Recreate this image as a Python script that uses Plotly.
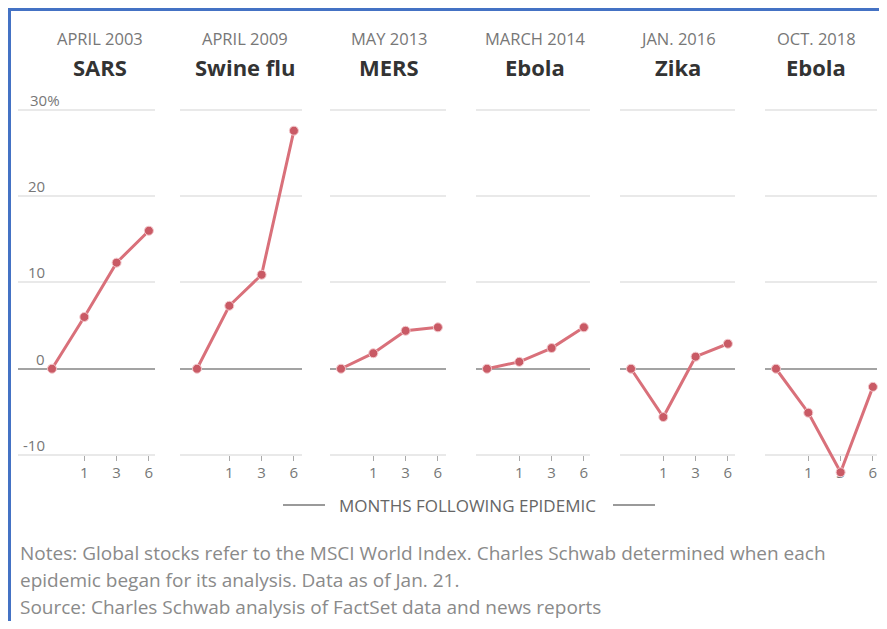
import plotly.graph_objects as go

# ---------------- data ----------------
months = ["0", "1", "3", "6"]            # months after start of epidemic
month_tick_labels = ["1", "3", "6"]
dates = ["APRIL 2003", "APRIL 2009", "MAY 2013", "MARCH 2014", "JAN. 2016", "OCT. 2018"]
names = ["SARS", "Swine flu", "MERS", "Ebola", "Zika", "Ebola"]
sars = [0, 6.0, 12.3, 16.0]
swine_flu = [0, 7.3, 10.9, 27.6]
mers = [0, 1.8, 4.4, 4.8]
ebola_2014 = [0, 0.8, 2.4, 4.8]
zika = [0, -5.6, 1.4, 2.9]
ebola_2018 = [0, -5.1, -12.0, -2.1]
series = [sars, swine_flu, mers, ebola_2014, zika, ebola_2018]
y_ticks = [-10, 0, 10, 20, 30]
y_tick_labels = ["-10", "0", "10", "20", "30%"]
axis_title = "MONTHS FOLLOWING EPIDEMIC"
notes = [
    "Notes: Global stocks refer to the MSCI World Index. Charles Schwab determined when each",
    "epidemic began for its analysis. Data as of Jan. 21.",
    "Source: Charles Schwab analysis of FactSet data and news reports",
]

# ---------------- layout helpers ----------------
OFF = 8                      # page body margin
W, H = 887 - 2 * OFF, 629 - 2 * OFF
def fx(p):
    return (p - OFF) / W
def fy(p):
    return 1 - (p - OFF) / H

# panel pixel geometry (page coords): (grid left, grid right, x of first point)
panels = [(18, 155, 52), (180, 302, 197), (330, 446, 341),
          (476, 590, 487), (620, 735, 631), (765, 877, 776)]
xscale = 32.3
header_x = [1.5, 1.5, 1.5, 1.5, 1.45, 1.25]

y_range = [-13, 31]
ppu = 345 / 40.0
y_dom = [fy(455 + 3 * ppu), fy(110 - 1 * ppu)]
x_axis_pos = fy(455)

LINE = "#d9707a"
MARK = "#c95a65"
FONT = "Open Sans"

fig = go.Figure()
layout = dict(
    width=W, height=H, autosize=False,
    margin=dict(l=0, r=0, t=0, b=0),
    paper_bgcolor="white", plot_bgcolor="white",
    showlegend=False,
    font=dict(family=FONT, color="#777"),
)

annotations = []
shapes = []

for i, (vals, (gl, gr, p0)) in enumerate(zip(series, panels)):
    n = "" if i == 0 else str(i + 1)
    xpos = list(range(len(months)))
    fig.add_trace(go.Scatter(
        x=xpos, y=vals, mode="lines+markers",
        xaxis="x" + n, yaxis="y" + n,
        line=dict(color=LINE, width=3),
        marker=dict(color=MARK, size=9, line=dict(color="#f3c9cd", width=1)),
        cliponaxis=False, hoverinfo="skip",
    ))
    layout["xaxis" + n] = dict(
        domain=[fx(gl), fx(gr)],
        range=[(gl - p0) / xscale, (gr - p0) / xscale],
        anchor="free", position=x_axis_pos,
        showgrid=False, zeroline=False, showline=False,
        tickmode="array", tickvals=xpos[1:], ticktext=month_tick_labels,
        ticks="outside", ticklen=5, tickwidth=1, tickcolor="#aaa",
        ticklabelstandoff=-1,
        tickfont=dict(family=FONT, size=15, color="#777"),
        layer="below traces", fixedrange=True,
    )
    layout["yaxis" + n] = dict(
        domain=y_dom, range=y_range, anchor="x" + n,
        tickmode="array", tickvals=y_ticks,
        showticklabels=False, ticks="",
        showgrid=True, gridcolor="#e9e9e9", gridwidth=1.5,
        zeroline=True, zerolinecolor="#a3a3a3", zerolinewidth=2,
        showline=False, layer="below traces", fixedrange=True,
    )
    # headers
    annotations.append(dict(
        xref="x" + n, yref="paper", x=header_x[i], y=fy(39),
        text=dates[i], showarrow=False, xanchor="center", yanchor="middle",
        font=dict(family=FONT, size=16.5, color="#777"),
    ))
    annotations.append(dict(
        xref="x" + n, yref="paper", x=header_x[i], y=fy(67),
        text="<b>" + names[i] + "</b>", showarrow=False, xanchor="center", yanchor="middle",
        font=dict(family=FONT, size=22, color="#333"),
    ))

# y tick labels (sitting above gridlines)
for v, lab in zip(y_ticks, y_tick_labels):
    if lab.endswith("%"):
        ax_x, anchor = fx(28), "left"
    else:
        ax_x, anchor = fx(47), "right"
    annotations.append(dict(
        xref="paper", yref="y", x=ax_x, y=v, yshift=10,
        text=lab, showarrow=False, xanchor=anchor, yanchor="middle",
        font=dict(family=FONT, size=15, color="#777"),
    ))

# x axis title with side rules
annotations.append(dict(
    xref="paper", yref="paper", x=fx(467), y=fy(505),
    text=axis_title, showarrow=False, xanchor="center", yanchor="middle",
    font=dict(family=FONT, size=17, color="#666"),
))
for a, b in [(283, 325), (613, 655)]:
    shapes.append(dict(type="line", xref="paper", yref="paper",
                       x0=fx(a), x1=fx(b), y0=fy(505), y1=fy(505),
                       line=dict(color="#9a9a9a", width=2)))

# notes
for k, line in enumerate(notes):
    annotations.append(dict(
        xref="paper", yref="paper", x=fx(18), y=fy(553 + 27 * k),
        text=line, showarrow=False, xanchor="left", yanchor="middle",
        font=dict(family=FONT, size=19, color="#8a8a8a"),
    ))

# blue frame (left and top edges)
shapes.append(dict(type="line", xref="paper", yref="paper",
                   x0=fx(9.5), x1=fx(9.5), y0=fy(8), y1=0,
                   line=dict(color="#4472c4", width=3)))
shapes.append(dict(type="line", xref="paper", yref="paper",
                   x0=fx(8), x1=1, y0=fy(9.5), y1=fy(9.5),
                   line=dict(color="#4472c4", width=3)))

layout["annotations"] = annotations
layout["shapes"] = shapes
fig.update_layout(**layout)
fig.write_html("out.html")
